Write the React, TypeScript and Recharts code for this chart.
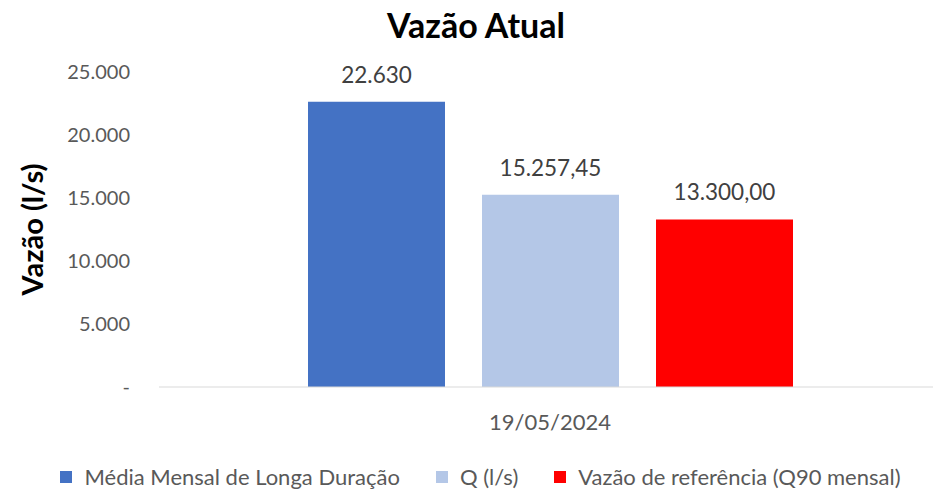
import { BarChart, Bar, XAxis, YAxis, Legend, LabelList } from 'recharts';

const categories = ['19/05/2024'];
const mediaMensal = [22630];
const vazaoQ = [15257.45];
const vazaoReferencia = [13300];
const yTicks = [0, 5000, 10000, 15000, 20000, 25000];

const SERIES = [
  { key: 'media', name: 'Média Mensal de Longa Duração', color: '#4472C4', decimals: 0 },
  { key: 'q', name: 'Q (l/s)', color: '#B4C7E7', decimals: 2 },
  { key: 'q90', name: 'Vazão de referência (Q90 mensal)', color: '#FF0000', decimals: 2 },
];

const FONT = 'Lato, "Open Sans", sans-serif';
const GREY = '#595959';

const data = categories.map((cat, i) => ({
  date: cat,
  media: mediaMensal[i],
  q: vazaoQ[i],
  q90: vazaoReferencia[i],
}));

const fmtPt = (v: number, decimals: number) =>
  v.toLocaleString('pt-BR', { minimumFractionDigits: decimals, maximumFractionDigits: decimals });

const fmtTick = (v: number) => (v === 0 ? '-' : fmtPt(v, 0));

function renderYLabel(props: any) {
  const vb = props.viewBox || { x: 0, y: 72, height: 315 };
  const cx = vb.x + 31;
  const cy = vb.y + vb.height / 2;
  return (
    <text
      x={cx}
      y={cy}
      transform={`rotate(-90, ${cx}, ${cy})`}
      textAnchor="middle"
      dominantBaseline="central"
      fontFamily={FONT}
      fontWeight={700}
      fontSize={29}
      fill="#000"
    >
      Vazão (l/s)
    </text>
  );
}

function renderLegend() {
  return (
    <div
      style={{
        display: 'flex',
        justifyContent: 'center',
        gap: 36,
        paddingLeft: 20,
        fontFamily: FONT,
        fontSize: 22,
        color: GREY,
        lineHeight: '26px',
      }}
    >
      {SERIES.map((s) => (
        <div key={s.key} style={{ display: 'flex', alignItems: 'center', gap: 12 }}>
          <span style={{ width: 12, height: 12, background: s.color, display: 'inline-block' }} />
          <span>{s.name}</span>
        </div>
      ))}
    </div>
  );
}

export default function App() {
  return (
    <div style={{ position: 'relative', width: 933, height: 491, overflow: 'hidden', background: '#fff' }}>
      <style>{'body { margin: 0; overflow: hidden; }'}</style>
      <div
        style={{
          position: 'absolute',
          top: 4,
          left: 0,
          width: 952,
          textAlign: 'center',
          fontFamily: FONT,
          fontWeight: 700,
          fontSize: 34,
          color: '#000',
        }}
      >
        Vazão Atual
      </div>
      <BarChart
        width={945}
        height={491}
        data={data}
        margin={{ top: 72, right: 4, bottom: 1, left: 0 }}
        barSize={137}
        barGap={37}
      >
        <XAxis
          dataKey="date"
          axisLine={{ stroke: '#D9D9D9' }}
          tickLine={false}
          tickMargin={21}
          tick={{ fill: GREY, fontSize: 22, fontFamily: FONT }}
          height={77}
        />
        <YAxis
          width={159}
          domain={[0, 25000]}
          ticks={yTicks}
          tickFormatter={fmtTick}
          axisLine={false}
          tickLine={false}
          tickMargin={23}
          tick={{ fill: GREY, fontSize: 20, fontFamily: FONT }}
          label={renderYLabel}
        />
        <Legend verticalAlign="bottom" content={renderLegend} />
        {SERIES.map((s) => (
          <Bar key={s.key} dataKey={s.key} name={s.name} fill={s.color} isAnimationActive={false}>
            <LabelList
              dataKey={s.key}
              position="top"
              offset={19}
              formatter={(v: any) => fmtPt(Number(v), s.decimals)}
              style={{ fill: '#404040', fontSize: 22.5, fontFamily: FONT }}
            />
          </Bar>
        ))}
      </BarChart>
    </div>
  );
}
